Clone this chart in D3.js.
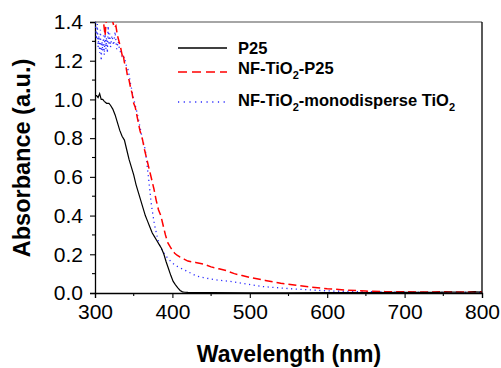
<!DOCTYPE html>
<html>
<head>
<meta charset="utf-8">
<script src="https://cdn.jsdelivr.net/npm/d3@7"></script>
<style>
  html, body { margin: 0; padding: 0; background: #fff; }
  svg { display: block; }
  text { font-family: "Liberation Sans", Arial, Helvetica, sans-serif; fill: #000; }
</style>
</head>
<body>
<svg id="chart" width="501" height="368"></svg>
<script>
// ---- data ----
const xTicks = [300, 400, 500, 600, 700, 800];
const xMinorTicks = [350, 450, 550, 650, 750];
const yTicks = [0.0, 0.2, 0.4, 0.6, 0.8, 1.0, 1.2, 1.4];
const yMinorTicks = [0.1, 0.3, 0.5, 0.7, 0.9, 1.1, 1.3];

const seriesNames = ["P25", "NF-TiO2-P25", "NF-TiO2-monodisperse TiO2"];

const p25Wl = [300, 302, 304, 306, 308, 310, 312, 315, 318, 320, 323, 326, 329, 332, 335, 338, 341, 344, 347, 350, 353, 356, 359, 362, 365, 368, 371, 374, 377, 380, 383, 386, 389, 392, 395, 398, 401, 404, 407, 410, 413, 416, 420, 430, 450, 500, 550, 600, 650, 700, 720, 740, 760, 780, 790, 800];
const p25Abs = [1.02, 1.02, 1.01, 1.03, 1.00, 1.00, 0.99, 0.98, 0.98, 0.97, 0.95, 0.92, 0.88, 0.84, 0.81, 0.79, 0.74, 0.69, 0.65, 0.61, 0.56, 0.52, 0.48, 0.44, 0.40, 0.37, 0.34, 0.31, 0.29, 0.27, 0.25, 0.23, 0.20, 0.16, 0.125, 0.09, 0.06, 0.042, 0.026, 0.013, 0.006, 0.004, 0.003, 0.002, 0.002, 0.001, 0.001, 0.002, 0.002, 0.003, 0.004, 0.003, 0.005, 0.004, 0.006, 0.005];

const nfP25Wl = [300, 305, 308, 311, 313, 315, 318, 321, 323, 325, 327, 329, 331, 333, 335, 336, 338, 340, 342, 344, 346, 348, 350, 352, 355, 358, 361, 364, 367, 370, 373, 376, 379, 382, 385, 388, 391, 394, 397, 400, 403, 406, 410, 415, 420, 430, 440, 450, 460, 470, 480, 490, 500, 520, 540, 560, 580, 600, 625, 650, 675, 700, 725, 750, 775, 800];
const nfP25Abs = [1.50, 1.48, 1.45, 1.40, 1.33, 1.43, 1.47, 1.42, 1.40, 1.37, 1.38, 1.33, 1.30, 1.27, 1.23, 1.24, 1.19, 1.17, 1.12, 1.10, 1.06, 1.03, 0.98, 0.96, 0.90, 0.84, 0.80, 0.74, 0.69, 0.64, 0.59, 0.54, 0.48, 0.43, 0.40, 0.35, 0.30, 0.26, 0.24, 0.22, 0.205, 0.195, 0.185, 0.175, 0.165, 0.158, 0.15, 0.135, 0.125, 0.115, 0.10, 0.09, 0.08, 0.065, 0.05, 0.04, 0.03, 0.022, 0.015, 0.01, 0.007, 0.006, 0.005, 0.006, 0.005, 0.007];

const nfMonoWl = [300, 301, 302, 303, 304, 305, 306, 307, 308, 309, 310, 311, 312, 313, 314, 315, 316, 317, 318, 319, 320, 322, 324, 326, 328, 330, 332, 334, 336, 338, 340, 343, 346, 349, 352, 355, 358, 361, 365, 369, 373, 377, 381, 384, 390, 395, 400, 405, 410, 420, 431, 440, 450, 460, 475, 498, 517, 540, 560, 582, 600, 625, 646, 700, 750, 800];
const nfMonoAbs = [1.40, 1.36, 1.31, 1.39, 1.27, 1.33, 1.24, 1.36, 1.20, 1.30, 1.25, 1.33, 1.23, 1.35, 1.26, 1.32, 1.24, 1.38, 1.28, 1.34, 1.27, 1.33, 1.28, 1.35, 1.26, 1.30, 1.25, 1.24, 1.21, 1.22, 1.18, 1.15, 1.08, 1.02, 0.97, 0.92, 0.86, 0.80, 0.74, 0.60, 0.45, 0.35, 0.28, 0.24, 0.20, 0.175, 0.155, 0.14, 0.13, 0.11, 0.088, 0.08, 0.072, 0.066, 0.06, 0.045, 0.033, 0.026, 0.02, 0.015, 0.011, 0.008, 0.007, 0.004, 0.003, 0.003];

// ---- layout ----
const svg = d3.select("#chart");
const mLeft = 95, mRight = 482, mTop = 22, mBottom = 293;
const x = d3.scaleLinear().domain([300, 800]).range([mLeft, mRight]);
const y = d3.scaleLinear().domain([0, 1.4]).range([mBottom, mTop]);

svg.append("defs").append("clipPath").attr("id", "plotclip")
  .append("rect").attr("x", mLeft).attr("y", mTop).attr("width", mRight - mLeft).attr("height", mBottom - mTop);

// frame: top (grey) and right (black)
svg.append("line").attr("x1", mLeft).attr("x2", mRight).attr("y1", mTop).attr("y2", mTop)
  .attr("stroke", "#888").attr("stroke-width", 1.6);
svg.append("line").attr("x1", mRight).attr("x2", mRight).attr("y1", mTop).attr("y2", mBottom)
  .attr("stroke", "#000").attr("stroke-width", 1.3);

// axes
const fontTick = 21;
const xAxis = d3.axisBottom(x).tickValues(xTicks).tickFormat(d3.format("d")).tickSize(5).tickPadding(6);
const gx = svg.append("g").attr("transform", `translate(0,${mBottom})`).call(xAxis);
gx.attr("font-family", null).attr("font-size", null);
gx.select(".domain").attr("stroke", "#000").attr("stroke-width", 1.3);
gx.selectAll(".tick line").attr("stroke", "#000").attr("stroke-width", 1.1);
gx.selectAll("text").style("font-size", fontTick + "px");
gx.selectAll(".minor").data(xMinorTicks).enter().append("line").attr("class", "minor")
  .attr("x1", d => x(d)).attr("x2", d => x(d)).attr("y1", 0).attr("y2", 3)
  .attr("stroke", "#000").attr("stroke-width", 1.1);

const yAxis = d3.axisLeft(y).tickValues(yTicks).tickFormat(d3.format(".1f")).tickSize(5).tickPadding(7);
const gy = svg.append("g").attr("transform", `translate(${mLeft},0)`).call(yAxis);
gy.attr("font-family", null).attr("font-size", null);
gy.select(".domain").attr("stroke", "#000").attr("stroke-width", 1.3);
gy.selectAll(".tick line").attr("stroke", "#000").attr("stroke-width", 1.1);
gy.selectAll("text").style("font-size", fontTick + "px");
gy.selectAll(".minor").data(yMinorTicks).enter().append("line").attr("class", "minor")
  .attr("x1", 0).attr("x2", -3).attr("y1", d => y(d)).attr("y2", d => y(d))
  .attr("stroke", "#000").attr("stroke-width", 1.1);

// axis titles
svg.append("text").attr("x", 289).attr("y", 362).attr("text-anchor", "middle")
  .style("font-size", "23px").style("font-weight", "bold").text("Wavelength (nm)");
svg.append("text").attr("transform", "translate(30,158) rotate(-90)").attr("text-anchor", "middle")
  .style("font-size", "23.5px").style("font-weight", "bold").text("Absorbance (a.u.)");

// series
const styles = [
  { stroke: "#000", width: 1.2, dash: null },
  { stroke: "#ff0000", width: 1.5, dash: "8,4" },
  { stroke: "#2a2aff", width: 1.3, dash: "1.2,3.5" }
];
const seriesData = [
  d3.zip(p25Wl, p25Abs),
  d3.zip(nfP25Wl, nfP25Abs),
  d3.zip(nfMonoWl, nfMonoAbs)
];
const line = d3.line().x(d => x(d[0])).y(d => y(d[1]));
const plot = svg.append("g").attr("clip-path", "url(#plotclip)");
[2, 1, 0].forEach(i => {
  plot.append("path").datum(seriesData[i]).attr("d", line)
    .attr("fill", "none").attr("stroke", styles[i].stroke)
    .attr("stroke-width", styles[i].width)
    .attr("stroke-dasharray", styles[i].dash);
});

// legend
const legY = [48, 72, 102];
const legend = svg.append("g");
seriesNames.forEach((name, i) => {
  legend.append("line").attr("x1", 178).attr("x2", 227).attr("y1", legY[i]).attr("y2", legY[i])
    .attr("stroke", styles[i].stroke).attr("stroke-width", i === 0 ? 1.6 : 1.5)
    .attr("stroke-dasharray", i === 1 ? "9,5" : (i === 2 ? "1.2,4.5" : null));
  const t = legend.append("text").attr("x", 238).attr("y", legY[i] + 5.5 - (i === 1 ? 4 : 0) - (i === 2 ? 2 : 0))
    .style("font-size", "16.5px").style("font-weight", "bold");
  const parts = name.split(/(TiO2)/).filter(p => p.length);
  let afterSub = false;
  parts.forEach(p => {
    if (p === "TiO2") {
      const a = t.append("tspan").text("TiO");
      if (afterSub) a.attr("dy", -5);
      t.append("tspan").attr("dy", 5).style("font-size", "11px").text("2");
      afterSub = true;
    } else {
      const a = t.append("tspan").text(p);
      if (afterSub) a.attr("dy", -5);
      afterSub = false;
    }
  });
});
</script>
</body>
</html>
